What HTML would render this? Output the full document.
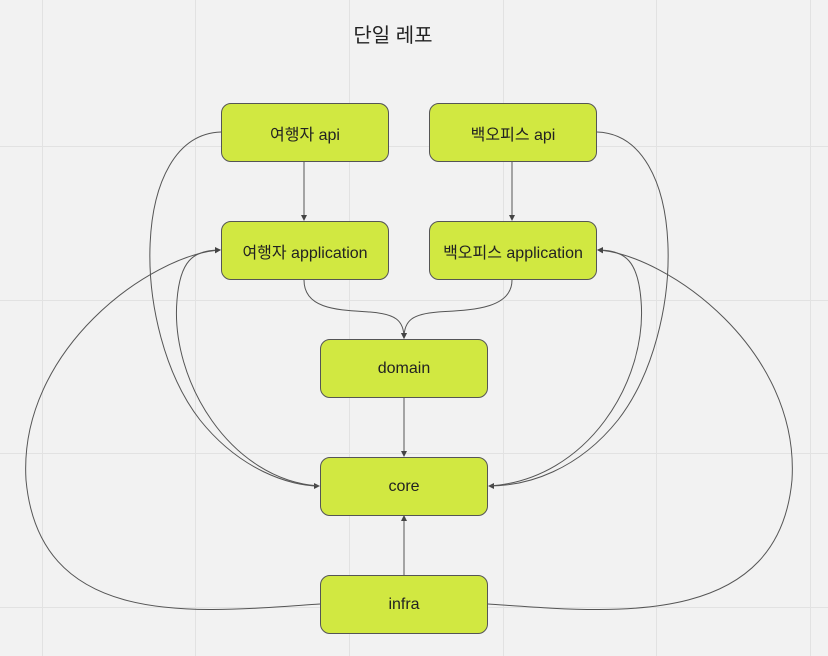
<!DOCTYPE html>
<html><head><meta charset="utf-8"><style>
html,body{margin:0;padding:0;background:#f2f2f2;}
body{width:828px;height:656px;position:relative;overflow:hidden;font-family:"Liberation Sans","Noto Sans CJK KR",sans-serif;}
.g{position:absolute;background:#e2e2e2;}
.b{position:absolute;width:168px;height:59px;background:#d1e841;border:1px solid #555;border-radius:10px;box-sizing:border-box;display:flex;align-items:center;justify-content:center;font-size:16px;color:#222;}
.t{position:absolute;left:0;width:786px;top:19px;text-align:center;font-size:20px;color:#222;}
svg{position:absolute;left:0;top:0;}
</style></head><body>
<div class="g" style="left:42px;top:0;width:1px;height:656px"></div>
<div class="g" style="left:195px;top:0;width:1px;height:656px"></div>
<div class="g" style="left:349px;top:0;width:1px;height:656px"></div>
<div class="g" style="left:503px;top:0;width:1px;height:656px"></div>
<div class="g" style="left:656px;top:0;width:1px;height:656px"></div>
<div class="g" style="left:810px;top:0;width:1px;height:656px"></div>
<div class="g" style="top:146px;left:0;height:1px;width:828px"></div>
<div class="g" style="top:300px;left:0;height:1px;width:828px"></div>
<div class="g" style="top:453px;left:0;height:1px;width:828px"></div>
<div class="g" style="top:607px;left:0;height:1px;width:828px"></div>
<div class="t">단일 레포</div>
<svg width="828" height="656" viewBox="0 0 828 656">
<defs><marker id="a" markerWidth="6" markerHeight="6" refX="5" refY="3" orient="auto" markerUnits="userSpaceOnUse"><path d="M0,0 L6,3 L0,6 z" fill="#444"/></marker></defs>
<g fill="none" stroke="#555" stroke-width="1">
<path d="M304,162 V220" marker-end="url(#a)"/>
<path d="M512,162 V220" marker-end="url(#a)"/>
<path d="M304,280 C304,310 340,310 370,312 C395,314 404,320 404,338" marker-end="url(#a)"/>
<path d="M512,280 C512,310 468,310 438,312 C413,314 404,320 404,338" marker-end="url(#a)"/>
<path d="M404,398 V456" marker-end="url(#a)"/>
<path d="M404,575 V516" marker-end="url(#a)"/>
<path d="M221,132 C130,135 130,330 200,420 C240,470 290,486 319,486" marker-end="url(#a)"/>
<path d="M319,486 C230,480 170,380 177,300 C180,262 192,250 220,250" marker-end="url(#a)"/>
<path d="M320,604 C200,612 40,632 26,480 C18,350 150,255 220,250" marker-end="url(#a)"/>
<path d="M597,132 C688,135 688,330 618,420 C578,470 528,486 489,486" marker-end="url(#a)"/>
<path d="M489,486 C588,480 648,380 641,300 C638,262 626,250 598,250" marker-end="url(#a)"/>
<path d="M488,604 C608,612 778,632 792,480 C800,350 668,255 598,250" marker-end="url(#a)"/>
</g>
</svg>
<div class="b" style="left:221px;top:103px">여행자 api</div>
<div class="b" style="left:429px;top:103px">백오피스 api</div>
<div class="b" style="left:221px;top:221px">여행자 application</div>
<div class="b" style="left:429px;top:221px">백오피스 application</div>
<div class="b" style="left:320px;top:339px">domain</div>
<div class="b" style="left:320px;top:457px">core</div>
<div class="b" style="left:320px;top:575px">infra</div>
</body></html>
